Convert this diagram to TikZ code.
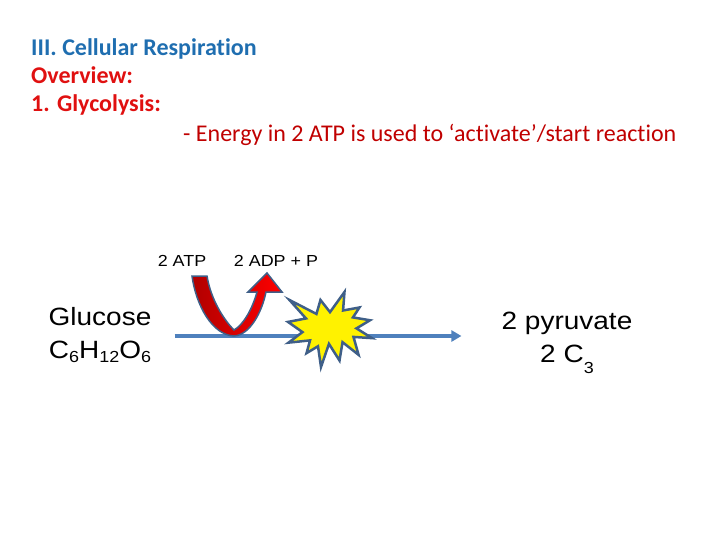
\documentclass[tikz,border=0pt]{standalone}
\usepackage{fontspec}
\setmainfont{Carlito}[Ligatures=NoCommon]
\newfontfamily\arialx[FakeStretch=1.12]{Liberation Sans}
\usetikzlibrary{arrows.meta}

\definecolor{titleblue}{HTML}{1F6EB0}
\definecolor{titlered}{HTML}{E01010}
\definecolor{notered}{HTML}{C00000}
\definecolor{flowblue}{HTML}{4F81BD}
\definecolor{edgeblue}{HTML}{3F5F88}
\definecolor{atpred}{HTML}{B00000}

% pedici delle formule
\newcommand\chemsub[2][-4pt]{\raisebox{#1}{\fontsize{16}{16}\selectfont #2}}

\tikzset{
  heading/.style={anchor=base west, inner sep=0pt, font=\fontsize{24}{28}\selectfont\bfseries},
  note/.style={anchor=base west, inner sep=0pt, font=\fontsize{24}{28}\selectfont},
  chem/.style={inner sep=0pt, align=center, font=\arialx\fontsize{25}{33}\selectfont},
  energy/.style={inner sep=0pt, font=\arialx\fontsize{16}{19}\selectfont},
  flow/.style={line width=4pt, flowblue, -{Triangle[length=10pt,width=11pt]}},
  uarrow/.style={draw=edgeblue, line width=1.5pt, left color=atpred, right color=red},
  burst/.style={draw=edgeblue, line width=2.5pt, fill=yellow, line join=miter}
}

\begin{document}
\begin{tikzpicture}[x=1pt,y=-1pt]
    \useasboundingbox (0,0) rectangle (720,540);

    %titoli
    \node[heading, titleblue] (title) at (31,56) {III. Cellular Respiration};
    \node[heading, titlered] (overview) at (31,84) {Overview:};
    \node[heading, titlered] (glyco) at (31,112) {1. Glycolysis:};
    \node[note, notered] (atpnote) at (183,142) {- Energy in 2 ATP is used to ‘activate’/start reaction};

    %reagenti e prodotti
    \node[chem] (glucose) at (100,335) {Glucose\\C\chemsub{6}H\chemsub{12}O\chemsub{6}};
    \node[chem] (pyruvate) at (567,343) {2 pyruvate\\2 C\chemsub[-11pt]{3}};
    \node[energy] (atp) at (182,261) {2 ATP};
    \node[energy] (adp) at (276,261) {2 ADP + P};

    %freccia principale
    \draw[flow] ([xshift=23pt,yshift=-1pt]glucose.east) -- ([xshift=-40pt,yshift=-1pt]glucose.east -| pyruvate.west);

    %freccia ATP -> ADP
    \draw[uarrow] (192,276) .. controls (196,305) and (212,335) .. (234,336)
        .. controls (250,335) and (262,312) .. (266,292)
        -- (282,292) -- (267,273) -- (248,292) -- (257,292)
        .. controls (252,310) and (243,325) .. (234,330)
        .. controls (224,320) and (211,300) .. (207,276) -- cycle;

    %esplosione
    \begin{scope}[shift={(288pt,-292pt)}, x=0.3889pt, y=-0.3472pt]
        \draw[burst] (108,58) -- (145.22,0) -- (141.55,53.25) -- (183.8,44.57) -- (167.02,73.15)
            -- (210.97,81.37) -- (176.07,104.75) -- (216,132.9) -- (168.37,129.42) -- (181.45,180.95)
            -- (140.2,144.57) -- (132.47,197.37) -- (105.32,149.35) -- (84.85,216) -- (77.15,156.27)
            -- (47.62,176.17) -- (56.67,139.37) -- (1.35,145.87) -- (37.22,115.52) -- (0,86.15)
            -- (46.27,76.17) -- (3.7,22.95) -- (73.12,63.2) -- (83.52,22.95) -- cycle;
    \end{scope}
\end{tikzpicture}
\end{document}
